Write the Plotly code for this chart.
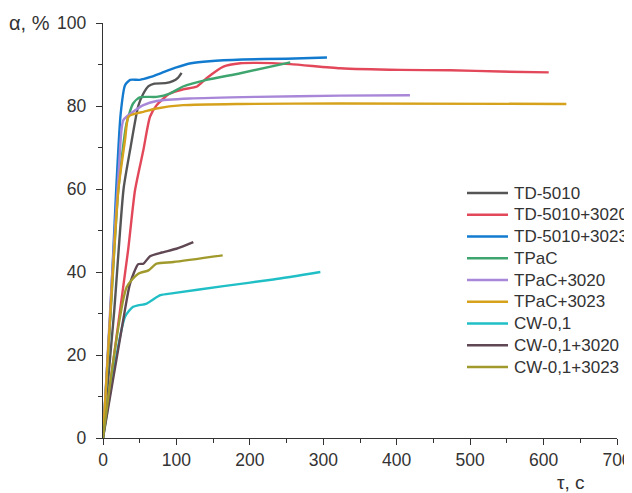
import plotly.graph_objects as go

names = ["TD-5010", "TD-5010+3020", "TD-5010+3023", "TPaC", "TPaC+3020",
         "TPaC+3023", "CW-0,1", "CW-0,1+3020", "CW-0,1+3023"]
colors = ["#555555", "#e2485a", "#127bcf", "#3ea56f", "#a886d8",
          "#d6a21c", "#20bfc6", "#5f4753", "#a09a2c"]

td5010_x = [0, 15, 28, 37, 48, 55, 62, 70, 85, 95, 102, 107]
td5010_y = [0, 30, 60, 69.5, 80, 83, 84.8, 85.4, 85.5, 86, 86.8, 88]

td3020_x = [0, 34, 43.6, 55, 64, 73, 91, 109, 128, 141, 164, 187, 209, 255, 323, 405, 473, 541, 607]
td3020_y = [0, 45, 59.7, 69.4, 77.4, 80.2, 83, 84, 84.7, 86.7, 89.5, 90.3, 90.4, 90.1, 89.1, 88.7, 88.6, 88.3, 88.1]

td3023_x = [0, 10, 18, 24, 30, 37, 50, 65, 80, 100, 120, 145, 190, 250, 305]
td3023_y = [0, 30, 60, 78, 85, 86.3, 86.3, 87, 88, 89.3, 90.3, 90.8, 91.2, 91.4, 91.7]

tpac_x = [0, 12, 20.8, 32, 41, 50, 73, 91, 109, 141, 187, 255]
tpac_y = [0, 35, 59.7, 75.8, 80.6, 82.1, 82.2, 83, 84.7, 86.3, 87.9, 90.5]

tpac3020_x = [0, 12, 22, 27.7, 41, 55, 73, 118, 209, 323, 418]
tpac3020_y = [0, 38, 66, 76.6, 78.6, 80.2, 81.2, 81.8, 82.2, 82.5, 82.6]

tpac3023_x = [0, 12, 21, 30, 34.5, 41, 55, 73, 109, 187, 323, 631]
tpac3023_y = [0, 36, 60, 71.8, 77.4, 78, 78.6, 79.4, 80.2, 80.5, 80.6, 80.5]

cw_x = [0, 30, 41, 59.5, 78, 96, 164, 232, 296]
cw_y = [0, 29.2, 31.6, 32.4, 34.4, 34.9, 36.6, 38.2, 40.0]

cw3020_x = [0, 30, 36.8, 48, 55, 64, 80, 100, 123]
cw3020_y = [0, 31, 37.2, 41.9, 42, 43.8, 44.7, 45.6, 47.2]

cw3023_x = [0, 32.3, 48, 62, 73, 96, 163]
cw3023_y = [0, 36.4, 39.6, 40.4, 42, 42.4, 44.0]

xs = [td5010_x, td3020_x, td3023_x, tpac_x, tpac3020_x, tpac3023_x, cw_x, cw3020_x, cw3023_x]
ys = [td5010_y, td3020_y, td3023_y, tpac_y, tpac3020_y, tpac3023_y, cw_y, cw3020_y, cw3023_y]

x_ticks = [0, 100, 200, 300, 400, 500, 600, 700]
y_ticks = [0, 20, 40, 60, 80, 100]

font_family = "Liberation Sans, Arial, sans-serif"
txt = "#333333"

fig = go.Figure()
for n, c, x, y in zip(names, colors, xs, ys):
    fig.add_trace(go.Scatter(x=x, y=y, mode="lines", name=n, showlegend=False,
                             line=dict(color=c, width=2.4, shape="spline", smoothing=0.6)))

axis_common = dict(showline=True, linecolor="#333333", linewidth=1.4, ticks="outside",
                   ticklen=6, tickwidth=1.4, tickcolor="#333333", showgrid=False,
                   zeroline=False, automargin=False,
                   tickfont=dict(size=17.5, color=txt, family=font_family))

fig.update_xaxes(range=[0, 700], tickvals=x_ticks, **axis_common,
                 minor=dict(ticks="outside", ticklen=4, tickwidth=1.2, tickcolor="#333333", dtick=50, showgrid=False))
fig.update_yaxes(range=[0, 100], tickvals=y_ticks, ticklabelstandoff=6, **axis_common,
                 minor=dict(ticks="outside", ticklen=4, tickwidth=1.2, tickcolor="#333333", dtick=10, showgrid=False))

fig.add_annotation(text="α, %", xref="paper", yref="paper", x=-0.186, y=1.0,
                   xanchor="left", yanchor="middle", showarrow=False,
                   font=dict(size=20, color=txt, family=font_family))
fig.add_annotation(text="τ, c", xref="paper", yref="paper", x=0.91, y=-0.107,
                   xanchor="center", yanchor="middle", showarrow=False,
                   font=dict(size=19, color=txt, family=font_family))

# legend drawn as line samples + text (paper coordinates)
plot_w, plot_h = 514.0, 415.0
leg_x0, leg_x1, leg_tx = (467 - 103) / plot_w, (508 - 103) / plot_w, (512 - 103) / plot_w
for i, (n, c) in enumerate(zip(names, colors)):
    yy = (438 - (193 + 21.75 * i)) / plot_h
    fig.add_shape(type="line", xref="paper", yref="paper", x0=leg_x0, x1=leg_x1, y0=yy, y1=yy,
                  line=dict(color=c, width=2.4))
    fig.add_annotation(text=n, xref="paper", yref="paper", x=leg_tx, y=yy,
                       xanchor="left", yanchor="middle", showarrow=False,
                       font=dict(size=17, color=txt, family=font_family))

fig.update_layout(width=624, height=485,
                  margin=dict(l=95, r=15, t=15, b=55),
                  paper_bgcolor="white", plot_bgcolor="white",
                  font=dict(family=font_family, color=txt),
                  showlegend=False)

fig.write_html("out.html")
